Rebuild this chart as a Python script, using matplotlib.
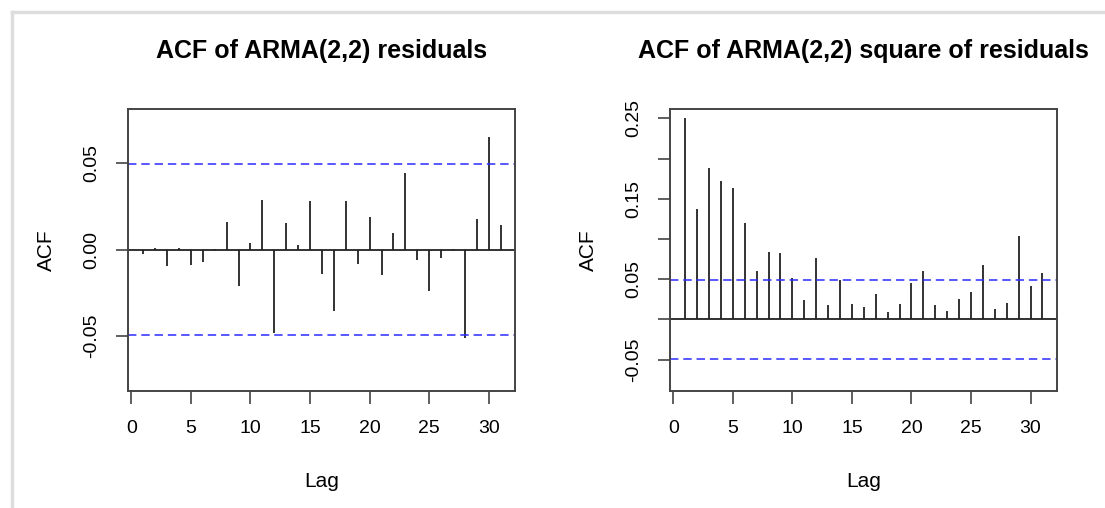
"""
ACF des residus ARMA(2,2) et de leurs carres (style R plot.acf).
"""

import matplotlib
matplotlib.use('Agg')
import matplotlib.pyplot as plt
from matplotlib.lines import Line2D

plt.rcParams['font.family'] = ['Liberation Sans', 'DejaVu Sans']

LAGS = list(range(1, 32))

ACF_RESID = [-0.0027, 0.0008, -0.0095, 0.0008, -0.0087, -0.0074, 0.0003, 0.0161,
             -0.0209, 0.0041, 0.0290, -0.0482, 0.0155, 0.0025, 0.0282, -0.0143,
             -0.0354, 0.0282, -0.0081, 0.0191, -0.0149, 0.0095, 0.0443, -0.0058,
             -0.0240, -0.0050, 0.0003, -0.0511, 0.0176, 0.0654, 0.0145]

ACF_SQ = [0.2502, 0.1373, 0.1880, 0.1718, 0.1635, 0.1199, 0.0598, 0.0842,
          0.0822, 0.0519, 0.0237, 0.0759, 0.0174, 0.0490, 0.0191, 0.0158,
          0.0320, 0.0091, 0.0191, 0.0448, 0.0598, 0.0174, 0.0108, 0.0253,
          0.0336, 0.0676, 0.0124, 0.0203, 0.1033, 0.0419, 0.0581]

CLIM = 0.0495

TITLES = ["ACF of ARMA(2,2) residuals", "ACF of ARMA(2,2) square of residuals"]
X_TICKS = [0, 5, 10, 15, 20, 25, 30]
Y_TICKS_L = [-0.05, 0.0, 0.05]
Y_LABELS_L = ["-0.05", "0.00", "0.05"]
Y_TICKS_R = [-0.05, 0.0, 0.05, 0.10, 0.15, 0.20, 0.25]
Y_LABELS_R = ["-0.05", "", "0.05", "", "0.15", "", "0.25"]

W, H = 1105, 508


def plot_acf(ax, vals, title, ylim, yticks, ylabels):
    ax.vlines(LAGS, 0, vals, color='#222222', lw=1.3)
    ax.axhline(0, color='#222222', lw=1.3)
    for c in (CLIM, -CLIM):
        ax.axhline(c, color='#2a2aff', lw=1.1, linestyle=(0, (5.5, 3.2)))
    ax.set_xlim(-0.25, 32.2)
    ax.set_ylim(*ylim)
    ax.set_xticks(X_TICKS)
    ax.set_xticklabels([str(t) for t in X_TICKS], fontsize=14)
    ax.set_yticks(yticks)
    ax.set_yticklabels(ylabels, fontsize=14, rotation=90, va='center')
    ax.tick_params(axis='both', length=9, width=1.1, color='#333333')
    ax.tick_params(axis='x', pad=12)
    ax.tick_params(axis='y', pad=11)
    for s in ax.spines.values():
        s.set_color('#444444')
        s.set_linewidth(1.4)
    ax.set_xlabel("Lag", fontsize=15, labelpad=25)
    ax.set_ylabel("ACF", fontsize=15, labelpad=20)
    ax.set_title(title, fontsize=18, fontweight='bold', pad=37)


def main():
    fig = plt.figure(figsize=(W / 100, H / 100), dpi=100)
    ax1 = fig.add_axes([128.3 / W, 1 - 390.7 / H, (515 - 128.3) / W, (390.7 - 109) / H])
    ax2 = fig.add_axes([670.3 / W, 1 - 390.7 / H, (1056.7 - 670.3) / W, (390.7 - 109) / H])

    plot_acf(ax1, ACF_RESID, TITLES[0], (-0.0818, 0.0816), Y_TICKS_L, Y_LABELS_L)
    plot_acf(ax2, ACF_SQ, TITLES[1], (-0.0888, 0.2618), Y_TICKS_R, Y_LABELS_R)

    # cadre gris de la capture
    fig.add_artist(Line2D([12 / W, 1], [1 - 12 / H, 1 - 12 / H], color='#dddddd', lw=2.5))
    fig.add_artist(Line2D([12 / W, 12 / W], [0, 1 - 12 / H], color='#dddddd', lw=2.5))

    fig.savefig("out.png", dpi=100)


if __name__ == "__main__":
    main()
